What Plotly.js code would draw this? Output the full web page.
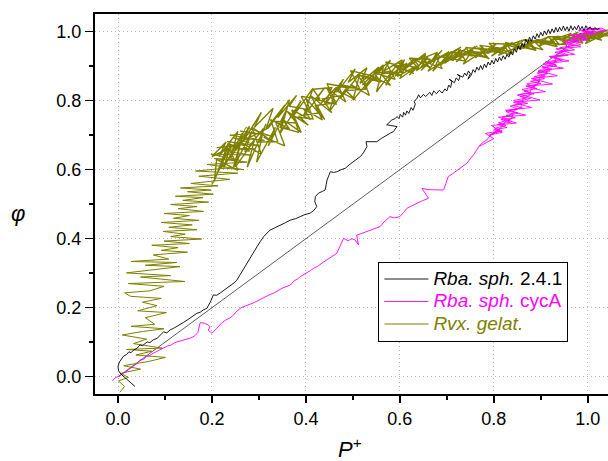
<!DOCTYPE html>
<html>
<head>
<meta charset="utf-8">
<script src="https://cdn.plot.ly/plotly-3.0.1.min.js"></script>
<style>
html,body{margin:0;padding:0;background:#fff;overflow:hidden;}
#chart{width:640px;height:461px;}
</style>
</head>
<body>
<div id="chart"></div>
<script>
// Series names
const seriesNames = ['Rba. sph. 2.4.1', 'Rba. sph. cycA', 'Rvx. gelat.'];
const xTickVals = [0.0, 0.2, 0.4, 0.6, 0.8, 1.0];
const yTickVals = [0.0, 0.2, 0.4, 0.6, 0.8, 1.0];

// Reference diagonal (phi = P+)
const diagPts = [[0, 0], [1, 1]];

// Rba. sph. 2.4.1 (black)
const rbaSph241 = [
[0.036,-0.028],[0.025,-0.015],[0.015,-0.002],[0.006,0.008],[0.001,0.018],[0.000,0.030],[0.003,0.043],[0.008,0.052],
[0.012,0.060],[0.018,0.064],[0.023,0.072],[0.028,0.070],[0.033,0.077],[0.040,0.082],[0.047,0.092],[0.052,0.090],
[0.057,0.097],[0.062,0.101],[0.068,0.099],[0.075,0.107],[0.083,0.111],[0.089,0.118],[0.097,0.130],[0.104,0.127],
[0.111,0.136],[0.118,0.140],[0.126,0.146],[0.133,0.151],[0.140,0.158],[0.147,0.164],[0.153,0.170],[0.160,0.176],
[0.168,0.184],[0.175,0.187],[0.182,0.194],[0.189,0.198],[0.196,0.215],[0.203,0.237],[0.210,0.236],[0.218,0.243],
[0.226,0.251],[0.232,0.256],[0.240,0.266],[0.247,0.272],[0.253,0.280],[0.260,0.296],[0.266,0.312],[0.272,0.325],
[0.278,0.338],[0.285,0.352],[0.291,0.366],[0.296,0.377],[0.303,0.392],[0.310,0.406],[0.317,0.416],[0.324,0.425],
[0.333,0.431],[0.345,0.440],[0.356,0.446],[0.367,0.454],[0.378,0.458],[0.388,0.464],[0.398,0.470],[0.409,0.474],
[0.417,0.482],[0.423,0.493],[0.419,0.507],[0.420,0.522],[0.427,0.532],[0.435,0.537],[0.441,0.541],[0.443,0.556],
[0.445,0.570],[0.449,0.584],[0.452,0.594],[0.459,0.592],[0.466,0.594],[0.475,0.600],[0.484,0.604],[0.492,0.614],
[0.501,0.623],[0.508,0.630],[0.516,0.638],[0.523,0.650],[0.530,0.667],[0.528,0.681],[0.540,0.680],[0.551,0.681],
[0.560,0.690],[0.572,0.701],[0.580,0.706],[0.586,0.710],[0.594,0.725],[0.580,0.728],[0.572,0.730],[0.583,0.744],
[0.590,0.748],[0.594,0.754],
[0.598,0.748],[0.601,0.760],[0.606,0.752],[0.608,0.766],[0.612,0.758],[0.615,0.770],[0.619,0.763],[0.624,0.780],
[0.628,0.772],[0.633,0.790],[0.630,0.798],[0.636,0.805],[0.640,0.817],[0.644,0.808],[0.650,0.818],[0.655,0.812],
[0.664,0.824],[0.668,0.815],[0.672,0.828],[0.678,0.820],[0.684,0.830],[0.690,0.822],[0.696,0.834],[0.700,0.828],
[0.704,0.845],[0.708,0.838],[0.711,0.857],[0.705,0.862],[0.716,0.852],[0.720,0.866],[0.725,0.858],[0.728,0.870],
[0.722,0.876],[0.734,0.868],[0.738,0.880],[0.742,0.872],[0.746,0.886],[0.750,0.878],[0.745,0.862],[0.752,0.874],
[0.756,0.890],[0.760,0.882],[0.764,0.897],[0.768,0.888],[0.772,0.902],[0.776,0.890],[0.780,0.906],[0.784,0.896],
[0.788,0.912],[0.792,0.903],[0.796,0.917],[0.800,0.906],[0.804,0.922],[0.808,0.912],[0.812,0.926],[0.816,0.916],
[0.820,0.930],[0.824,0.920],[0.828,0.934],[0.832,0.926],[0.836,0.942],[0.840,0.932],[0.844,0.950],[0.848,0.940],
[0.852,0.958],[0.856,0.948],[0.860,0.966],[0.864,0.955],[0.868,0.978],[0.872,0.966],[0.876,0.984],[0.880,0.972],
[0.884,0.988],[0.888,0.978],[0.892,0.994],[0.896,0.983],[0.900,0.998],[0.904,0.987],[0.908,1.002],[0.912,0.991],
[0.916,1.006],[0.920,0.994],[0.924,1.008],[0.928,0.997],[0.932,1.012],[0.936,0.999],[0.940,1.013],[0.944,1.002],
[0.948,1.016],[0.952,1.003],[0.956,1.014],[0.960,1.001],[0.964,1.017],[0.968,1.004],[0.972,1.015],[0.976,1.005],
[0.980,1.018],[0.984,1.006],[0.988,1.015],[0.992,1.003],[0.996,1.017],[1.000,1.006],[1.005,1.014],[1.010,1.004],
[1.015,1.012],[1.020,1.006],[1.025,1.010]
];

// Rba. sph. cycA (magenta)
const rbaSphCycA = [
[-0.012,-0.012],[-0.005,-0.002],[0.004,0.002],[0.010,0.010],[0.016,0.014],[0.022,0.020],[0.028,0.026],[0.033,0.030],
[0.040,0.038],[0.047,0.048],[0.054,0.050],[0.060,0.058],[0.068,0.062],[0.075,0.068],[0.083,0.074],[0.090,0.078],
[0.097,0.083],[0.105,0.089],[0.113,0.092],[0.120,0.098],[0.128,0.102],[0.136,0.105],[0.145,0.108],[0.154,0.112],
[0.162,0.117],[0.170,0.128],[0.175,0.157],[0.184,0.155],[0.192,0.150],[0.196,0.145],[0.192,0.135],[0.200,0.126],
[0.210,0.140],[0.220,0.155],[0.230,0.165],[0.238,0.170],[0.246,0.179],[0.253,0.190],[0.262,0.200],[0.272,0.205],
[0.280,0.208],[0.290,0.215],[0.300,0.222],[0.310,0.230],[0.320,0.236],[0.331,0.242],[0.340,0.250],[0.350,0.257],
[0.360,0.262],[0.367,0.266],[0.375,0.278],[0.382,0.283],[0.388,0.290],[0.396,0.296],[0.404,0.303],[0.410,0.308],
[0.416,0.314],[0.425,0.320],[0.435,0.330],[0.445,0.338],[0.455,0.348],[0.466,0.358],[0.472,0.378],[0.480,0.401],
[0.490,0.394],[0.498,0.400],[0.505,0.396],[0.512,0.382],[0.508,0.410],[0.520,0.416],[0.530,0.422],[0.537,0.425],
[0.548,0.430],[0.558,0.435],[0.566,0.448],[0.572,0.456],[0.579,0.464],[0.588,0.460],[0.600,0.464],[0.608,0.476],
[0.615,0.488],[0.625,0.495],[0.636,0.503],[0.648,0.510],[0.661,0.517],[0.655,0.530],[0.647,0.546],[0.660,0.542],
[0.672,0.541],[0.683,0.540],[0.693,0.541],[0.698,0.560],[0.703,0.580],[0.712,0.588],[0.718,0.594],[0.725,0.599],
[0.734,0.610],[0.743,0.619],[0.750,0.632],[0.757,0.643],[0.765,0.660],[0.771,0.672],[0.778,0.680],[0.785,0.686],
[0.792,0.698],[0.799,0.705],[0.806,0.712],[0.813,0.715],
[0.790,0.700],[0.818,0.708],[0.800,0.716],[0.828,0.722],[0.808,0.731],[0.836,0.738],[0.815,0.745],[0.846,0.750],
[0.826,0.757],[0.852,0.764],[0.832,0.772],[0.861,0.779],[0.840,0.786],[0.872,0.792],[0.850,0.798],[0.878,0.806],
[0.856,0.812],[0.886,0.820],[0.864,0.828],[0.892,0.835],[0.872,0.842],[0.900,0.850],[0.878,0.856],[0.908,0.864],
[0.886,0.870],[0.915,0.878],[0.894,0.884],[0.924,0.891],[0.902,0.898],[0.932,0.905],[0.910,0.912],[0.941,0.919],
[0.920,0.926],[0.950,0.933],[0.930,0.940],[0.960,0.946],[0.940,0.953],[0.970,0.960],[0.950,0.966],[0.982,0.973],
[0.962,0.979],[0.994,0.985],[0.975,0.991],[1.006,0.997],[0.988,1.002],[1.020,1.007],[1.000,1.010],[1.032,1.004],
[1.010,0.992],[0.985,0.984],[1.000,0.976],[0.968,0.970],[0.985,0.962],[0.955,0.956],[0.972,0.947],[0.942,0.941],
[0.958,0.932],[0.928,0.925],[0.946,0.917],[0.915,0.910],[0.934,0.901],[0.904,0.895],[0.920,0.886],[0.892,0.880],
[0.910,0.871],[0.882,0.864],[0.898,0.855],[0.870,0.848],[0.888,0.840],[0.860,0.832],[0.877,0.824],[0.850,0.816],
[0.868,0.808],[0.842,0.800],[0.858,0.792],[0.835,0.784],[0.850,0.776],[0.826,0.768],[0.842,0.760],[0.818,0.752],
[0.834,0.744],[0.810,0.736],[0.826,0.728],[0.802,0.720],[0.818,0.712],[0.796,0.704],
[0.812,0.716],[0.824,0.738],[0.838,0.748],[0.842,0.770],[0.858,0.782],[0.862,0.804],[0.876,0.815],[0.880,0.838],
[0.894,0.848],[0.898,0.870],[0.912,0.880],[0.916,0.902],[0.930,0.912],[0.936,0.934],[0.950,0.944],[0.956,0.964],
[0.972,0.974],[0.980,0.992],[1.000,1.000],[1.040,1.002],
[1.030,1.010],[0.980,1.004],[1.015,0.996],[0.962,0.990],[0.998,0.978],[0.950,0.972],[0.985,0.956],[0.932,0.950],
[0.972,0.934],[0.918,0.928],[0.960,0.915],[0.905,0.906],[0.948,0.894],[0.895,0.888],[0.935,0.872],[0.880,0.864],
[0.925,0.848],[0.868,0.842],[0.910,0.826],[0.855,0.818],[0.898,0.802],[0.842,0.795],[0.880,0.780],[0.825,0.772],
[0.868,0.758],[0.810,0.752],[0.848,0.735],[0.795,0.728],[0.812,0.712],[0.782,0.705],[0.800,0.690],[0.770,0.668]
];

// Rvx. gelat. (olive): sparse lower part of the trajectory
const rvxGelatSparse = [
[0.004,-0.045],[0.014,-0.028],[0.001,-0.012],[0.022,-0.002],[0.006,0.010],[0.048,0.022],[0.012,0.032],[0.064,0.044],
[0.101,0.056],[0.038,0.063],[0.072,0.074],[0.018,0.079],[0.094,0.083],[0.033,0.096],[0.061,0.109],[0.009,0.121],
[0.052,0.131],[0.098,0.139],[0.028,0.146],[0.078,0.152],[0.058,0.171],[0.103,0.186],[0.042,0.191],[0.083,0.206],
[0.052,0.216],[0.092,0.227],[0.027,0.233],[0.014,0.243],[0.068,0.249],[0.098,0.262],[0.022,0.270],[0.142,0.276],
[0.048,0.289],[0.112,0.293],[0.018,0.301],[0.087,0.311],[0.132,0.319],[0.058,0.323],[0.125,0.331],[0.028,0.334],
[0.108,0.341],[0.075,0.353],[0.148,0.361],[0.092,0.366],[0.128,0.374],[0.072,0.381],[0.152,0.386],[0.098,0.393],
[0.178,0.399],[0.112,0.406],[0.143,0.413],[0.096,0.421],[0.168,0.426],[0.108,0.433],[0.158,0.440],[0.092,0.447],
[0.172,0.453],[0.118,0.459],[0.152,0.467],[0.098,0.473],[0.182,0.479],[0.128,0.487],[0.168,0.493],[0.112,0.499],
[0.193,0.506],[0.138,0.511],[0.181,0.519],[0.122,0.523],[0.203,0.529],[0.148,0.536],[0.198,0.541],[0.133,0.547],
[0.213,0.553],
[0.155,0.560],[0.238,0.572],[0.172,0.581],[0.255,0.590],[0.165,0.596],[0.228,0.604],[0.268,0.600],[0.190,0.615],
[0.275,0.622],[0.205,0.632],[0.258,0.628],[0.198,0.645],[0.285,0.642],[0.222,0.655],[0.292,0.660],[0.210,0.664],
[0.268,0.672],[0.232,0.682],[0.302,0.668],[0.245,0.692],[0.312,0.685],[0.238,0.700],[0.295,0.705],[0.260,0.712],
[0.325,0.698],[0.272,0.722],[0.250,0.660],[0.215,0.625]
];

// Rvx. gelat. (olive): dense upper band (several overlapping runs)
const rvxGelatBand = [
[0.200,0.557],[0.240,0.670],[0.225,0.606],[0.265,0.707],[0.250,0.608],[0.290,0.684],[0.275,0.607],[0.315,0.732],
[0.300,0.680],[0.340,0.681],[0.325,0.745],[0.365,0.718],[0.350,0.746],[0.390,0.708],[0.375,0.753],[0.415,0.747],
[0.400,0.807],[0.440,0.745],[0.425,0.782],[0.465,0.839],[0.450,0.768],[0.490,0.844],[0.475,0.809],[0.515,0.878],
[0.500,0.801],[0.540,0.866],[0.525,0.834],[0.565,0.897],[0.550,0.825],[0.590,0.897],[0.575,0.869],[0.615,0.909],
[0.600,0.864],[0.640,0.902],[0.625,0.924],[0.665,0.895],[0.650,0.915],[0.690,0.893],[0.675,0.933],[0.715,0.916],
[0.700,0.923],[0.740,0.915],[0.725,0.947],[0.765,0.935],[0.750,0.947],[0.790,0.921],[0.775,0.945],[0.815,0.939],
[0.800,0.954],[0.840,0.938],[0.825,0.969],[0.865,0.951],[0.850,0.958],[0.890,0.946],[0.875,0.972],[0.915,0.964],
[0.900,0.972],[0.940,0.962],[0.925,0.985],[0.965,0.972],[0.950,0.976],[0.990,0.967],[0.975,0.988],[1.015,0.978],
[1.000,0.997],[1.040,0.989],[1.025,0.993],[1.065,0.985],
[1.060,1.007],[1.020,0.977],[1.035,0.993],[0.995,0.965],[1.010,0.994],[0.970,0.973],[0.985,0.995],[0.945,0.964],
[0.960,0.976],[0.920,0.979],[0.935,0.956],[0.895,0.970],[0.910,0.964],[0.870,0.976],[0.885,0.949],[0.845,0.958],
[0.860,0.949],[0.820,0.964],[0.835,0.933],[0.795,0.952],[0.810,0.944],[0.770,0.950],[0.785,0.925],[0.745,0.935],
[0.760,0.957],[0.720,0.912],[0.735,0.936],[0.695,0.911],[0.710,0.943],[0.670,0.885],[0.685,0.927],[0.645,0.897],
[0.660,0.927],[0.620,0.874],[0.635,0.901],[0.595,0.870],[0.610,0.919],[0.570,0.844],[0.585,0.886],[0.545,0.879],
[0.560,0.854],[0.520,0.874],[0.535,0.815],[0.495,0.846],[0.510,0.836],[0.470,0.840],[0.485,0.796],[0.445,0.835],
[0.460,0.793],[0.420,0.786],[0.435,0.744],[0.395,0.776],[0.410,0.745],[0.370,0.773],[0.385,0.708],[0.345,0.723],
[0.360,0.777],[0.320,0.669],[0.335,0.723],[0.295,0.622],[0.310,0.720],[0.270,0.652],[0.285,0.711],[0.245,0.604],
[0.260,0.674],[0.220,0.605],[0.235,0.678],[0.205,0.567],
[0.210,0.630],[0.255,0.598],[0.235,0.675],[0.280,0.653],[0.260,0.680],[0.305,0.645],[0.285,0.723],[0.330,0.680],
[0.310,0.694],[0.355,0.669],[0.335,0.740],[0.380,0.735],[0.360,0.769],[0.405,0.729],[0.385,0.755],[0.430,0.765],
[0.410,0.815],[0.455,0.765],[0.435,0.805],[0.480,0.816],[0.460,0.835],[0.505,0.803],[0.485,0.829],[0.530,0.833],
[0.510,0.875],[0.555,0.855],[0.535,0.875],[0.580,0.844],[0.560,0.878],[0.605,0.883],[0.585,0.904],[0.630,0.878],
[0.610,0.891],[0.655,0.934],[0.635,0.887],[0.680,0.927],[0.660,0.885],[0.705,0.927],[0.685,0.901],[0.730,0.948],
[0.710,0.918],[0.755,0.948],[0.735,0.906],[0.780,0.946],[0.760,0.924],[0.805,0.965],[0.785,0.936],[0.830,0.961],
[0.810,0.931],[0.855,0.958],[0.835,0.966],[0.880,0.949],[0.860,0.964],[0.905,0.947],[0.885,0.973],[0.930,0.964],
[0.910,0.968],[0.955,0.962],[0.935,0.987],[0.980,0.976],[0.960,0.983],[1.005,0.975],[0.985,0.993],[1.030,0.975],
[1.010,0.988],[1.055,0.988],
[1.055,1.011],[1.015,0.989],[1.030,1.001],[0.990,0.978],[1.005,1.000],[0.965,0.983],[0.980,0.999],[0.940,0.973],
[0.955,0.985],[0.915,0.985],[0.930,0.969],[0.890,0.977],[0.905,0.970],[0.865,0.976],[0.880,0.968],[0.840,0.946],
[0.855,0.972],[0.815,0.951],[0.830,0.964],[0.790,0.966],[0.805,0.946],[0.765,0.953],[0.780,0.948],[0.740,0.954],
[0.755,0.929],[0.715,0.940],[0.730,0.955],[0.690,0.925],[0.705,0.942],[0.665,0.910],[0.680,0.940],[0.640,0.918],
[0.655,0.938],[0.615,0.896],[0.630,0.920],[0.590,0.871],[0.605,0.918],[0.565,0.885],[0.580,0.917],[0.540,0.869],
[0.555,0.897],[0.515,0.850],[0.530,0.895],[0.490,0.853],[0.505,0.892],[0.465,0.824],[0.480,0.862],[0.440,0.787],
[0.455,0.838],[0.415,0.833],[0.430,0.805],[0.390,0.812],[0.405,0.774],[0.365,0.784],[0.380,0.815],[0.340,0.751],
[0.355,0.787],[0.315,0.717],[0.330,0.778],[0.290,0.722],[0.305,0.766],[0.265,0.679],[0.280,0.726],[0.240,0.634],
[0.255,0.711],[0.215,0.638],[0.230,0.680],[0.200,0.638],
[0.320,0.721],[0.365,0.803],[0.345,0.705],[0.390,0.800],[0.370,0.749],[0.415,0.836],[0.395,0.754],[0.440,0.837],
[0.420,0.804],[0.465,0.789],[0.445,0.849],[0.490,0.838],[0.470,0.848],[0.515,0.833],[0.495,0.887],[0.540,0.872],
[0.520,0.845],[0.565,0.904],[0.545,0.881],[0.590,0.862],[0.570,0.912],[0.615,0.894],[0.595,0.910],[0.640,0.893],
[0.620,0.923],[0.665,0.920],[0.645,0.887],[0.690,0.946],[0.670,0.916],[0.715,0.941],[0.695,0.908],[0.740,0.950],
[0.720,0.926],[0.765,0.958],[0.745,0.943],[0.790,0.938],[0.770,0.960],[0.815,0.952],[0.795,0.929],[0.840,0.969],
[0.820,0.956],[0.865,0.977],[0.845,0.952],[0.890,0.974],[0.870,0.960],[0.915,0.984],[0.895,0.957],[0.940,0.985],
[0.920,0.974],[0.965,0.995],[0.945,0.970],[0.990,0.992],[0.970,0.979],[1.015,1.003],[0.995,0.989],[1.040,1.004],
[1.020,0.986],[1.065,1.008]
];

const xs = a => a.map(p => p[0]);
const ys = a => a.map(p => p[1]);

const FONT = 'Arial, "Liberation Sans", sans-serif';
const LEG = t => '<span style="font-size:19px">' + t + '</span>';
const OLIVE = '#808000';

const traces = [
  {x: xs(diagPts), y: ys(diagPts), mode: 'lines', line: {color: '#333333', width: 0.8}, showlegend: false, hoverinfo: 'skip'},
  {x: xs(rvxGelatSparse), y: ys(rvxGelatSparse), mode: 'lines', legendgroup: 'rvx',
   name: LEG('<span style="color:#808000"><i>Rvx. gelat.</i></span>'),
   line: {color: OLIVE, width: 1.0}, legendrank: 3},
  {x: xs(rvxGelatBand), y: ys(rvxGelatBand), mode: 'lines', legendgroup: 'rvx', showlegend: false,
   line: {color: OLIVE, width: 1.4}},
  {x: xs(rbaSphCycA), y: ys(rbaSphCycA), mode: 'lines', name: LEG('<span style="color:#ff00ff"><i>Rba. sph.</i> cycA</span>'),
   line: {color: '#ff00ff', width: 0.9}, legendrank: 2},
  {x: xs(rbaSph241), y: ys(rbaSph241), mode: 'lines', name: LEG('<i>Rba. sph.</i> 2.4.1'),
   line: {color: '#000000', width: 0.9}, legendrank: 1}
];

const axisCommon = {
  showline: true, linecolor: '#000', linewidth: 2, mirror: true,
  ticks: 'outside', tickcolor: '#000', tickwidth: 1.5,
  showgrid: true, gridcolor: '#b8b8b8', griddash: '1px,3px', gridwidth: 1,
  zeroline: false, tickformat: '.1f',
  tickfont: {family: FONT, size: 18, color: '#000'},
  minor: {dtick: 0.1, tick0: 0, ticks: 'outside', ticklen: 4, tickwidth: 1.5, tickcolor: '#000', showgrid: false}
};

const layout = {
  width: 640, height: 461,
  margin: {l: 95, r: 25, t: 14, b: 67},
  paper_bgcolor: '#fff', plot_bgcolor: '#fff',
  showlegend: true,
  xaxis: Object.assign({}, axisCommon, {range: [-0.049, 1.058], tickvals: xTickVals, ticklen: 7}),
  yaxis: Object.assign({}, axisCommon, {range: [-0.05, 1.051], tickvals: yTickVals, ticklen: 8}),
  legend: {x: 0.545, y: 0.348, xanchor: 'left', yanchor: 'top', bgcolor: '#fff',
           bordercolor: '#000', borderwidth: 1, font: {family: FONT, size: 15, color: '#000'},
           tracegroupgap: 0, itemwidth: 44},
  annotations: [
    {text: '<i>φ</i>', xref: 'paper', yref: 'paper', x: -0.148, y: 0.476, xanchor: 'center', yanchor: 'middle',
     showarrow: false, font: {family: FONT, size: 22, color: '#000'}},
    {text: '<i>P</i><sup>+</sup>', xref: 'paper', yref: 'paper', x: 0.49, y: -0.142, xanchor: 'center', yanchor: 'middle',
     showarrow: false, font: {family: FONT, size: 22, color: '#000'}}
  ]
};

Plotly.newPlot('chart', traces, layout, {displayModeBar: false, staticPlot: true});
</script>
</body>
</html>
